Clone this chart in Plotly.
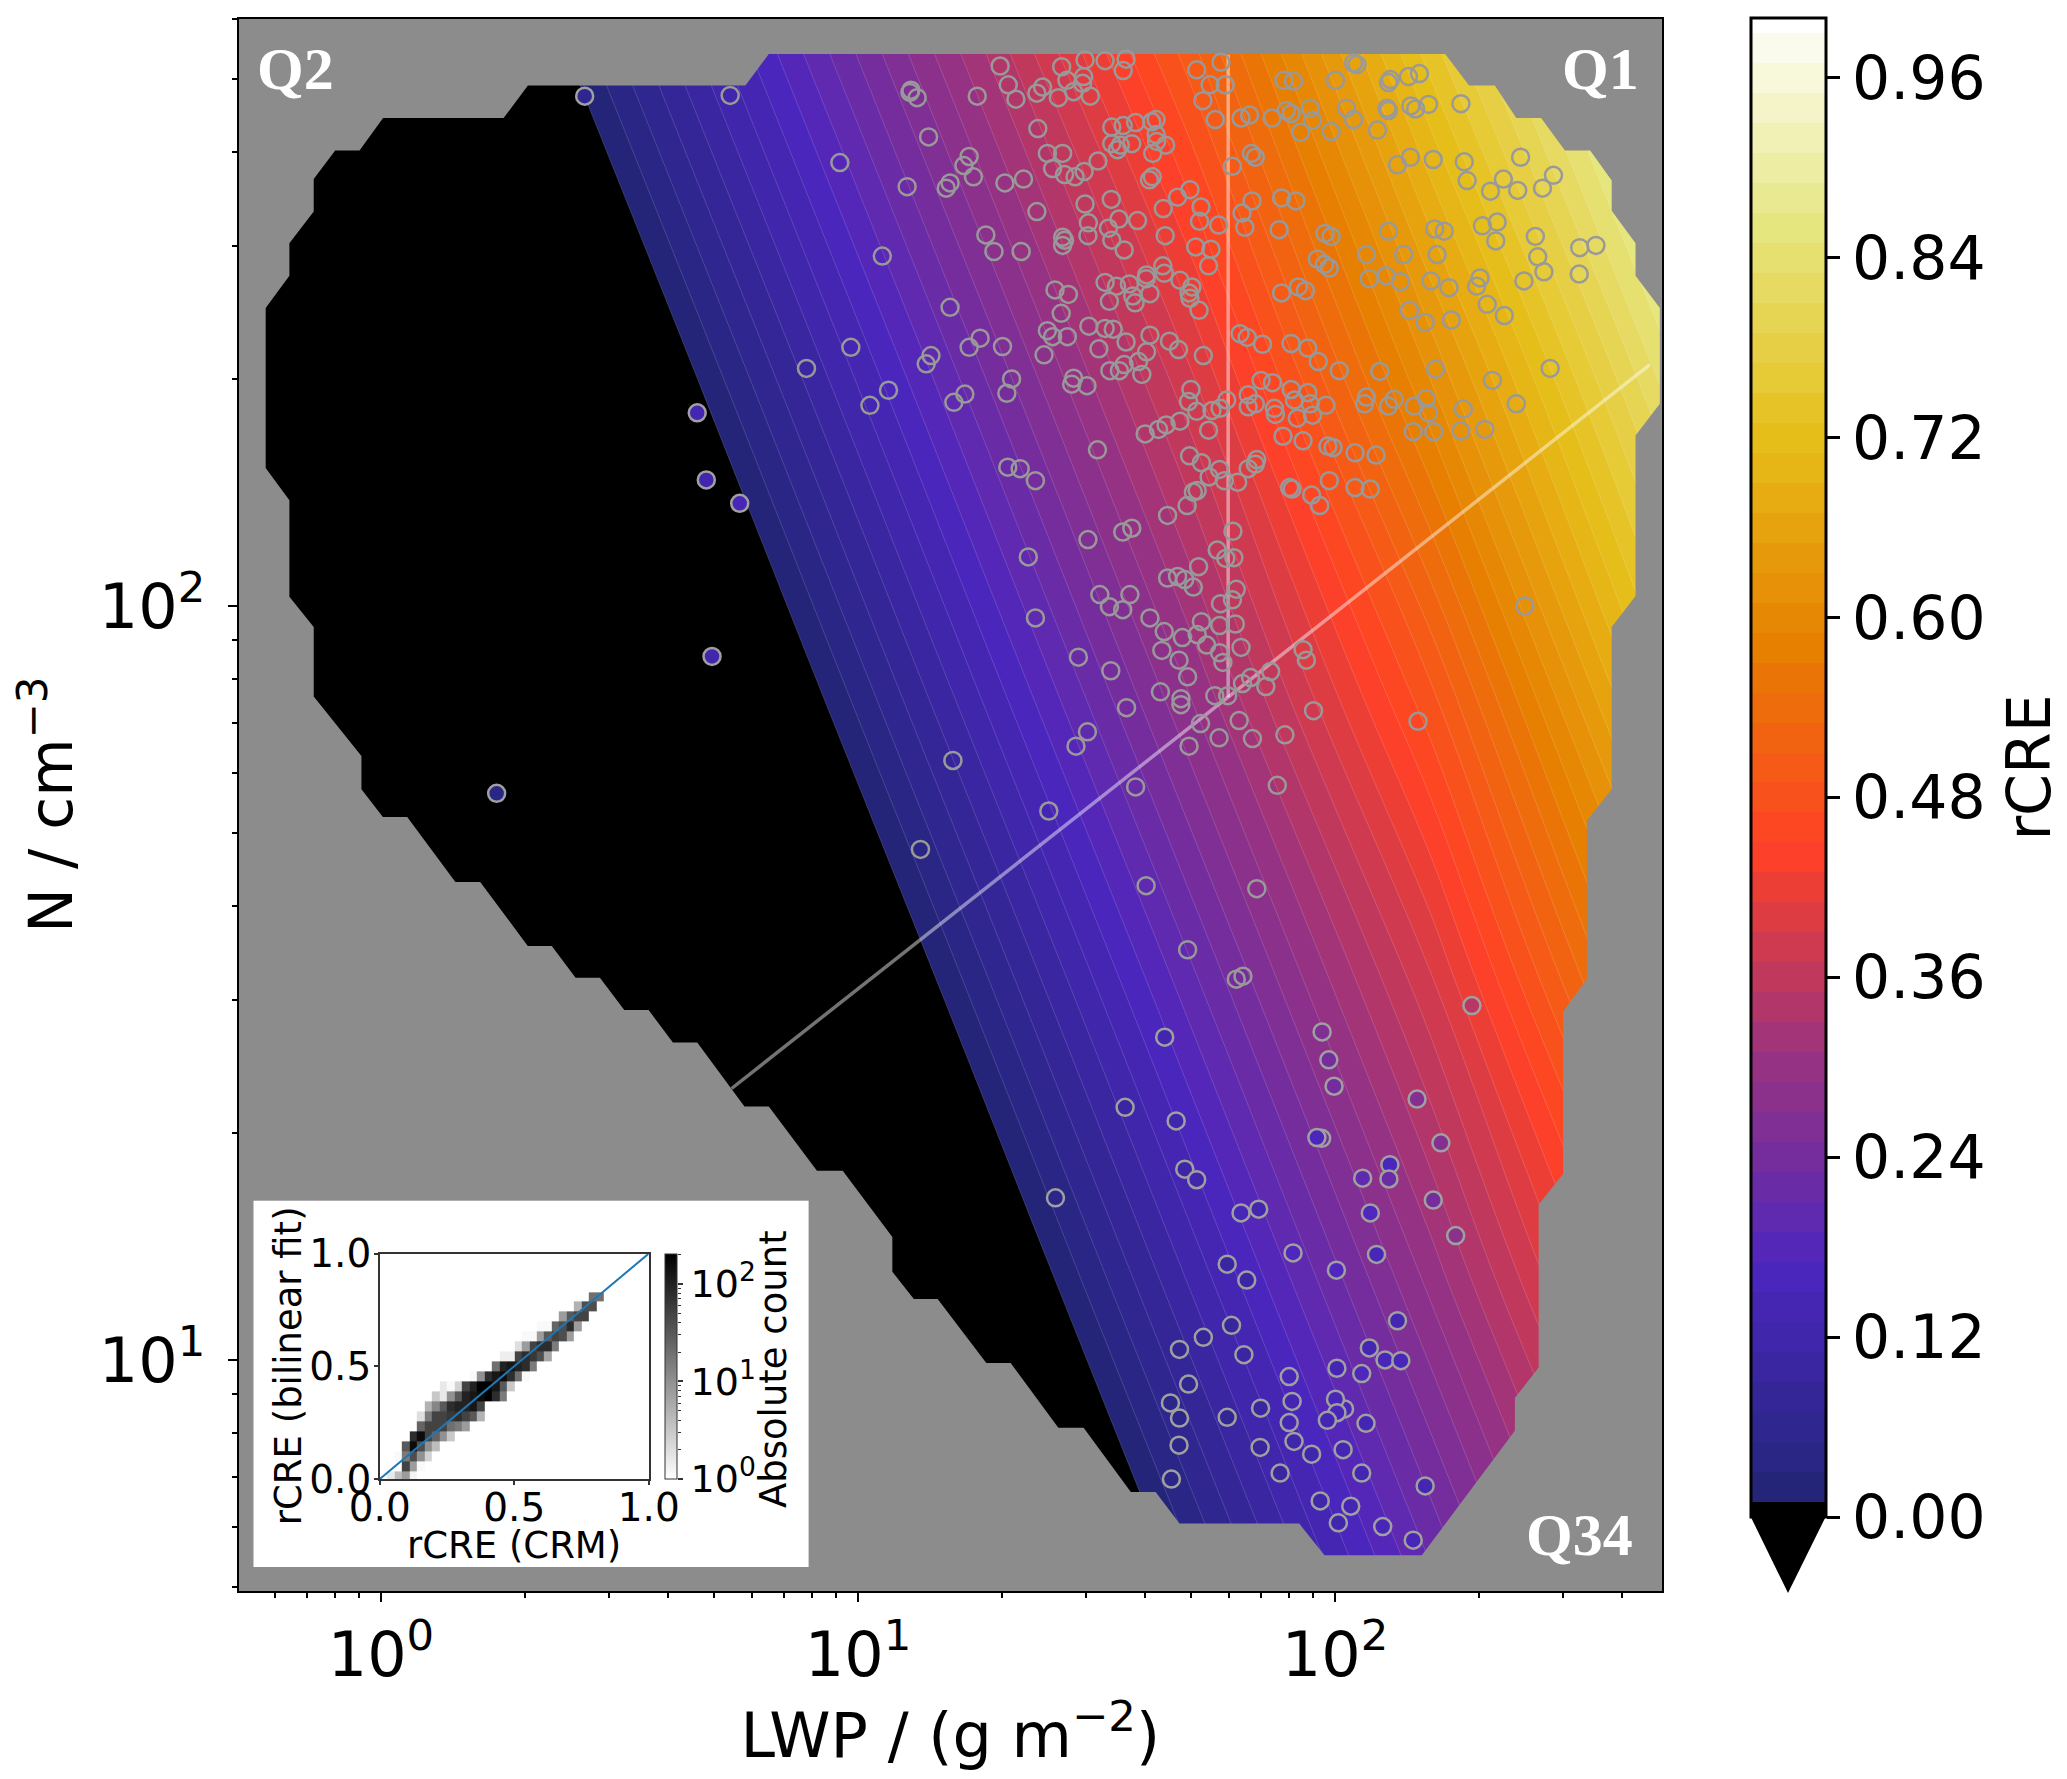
import numpy as np
import plotly.graph_objects as go

PAGE_W, PAGE_H = 2067, 1779
BODY = 8  # the page keeps a body margin of this many pixels
W, H = PAGE_W - BODY, PAGE_H - BODY

# ---------- fitted rCRE surface, table ----------
surface_log_lwp = [-0.3, 0.2, 0.7, 1.2, 1.7, 2.2, 2.7]
surface_log_n = [0.6, 0.7, 1.1, 1.5, 1.9, 2.3, 2.8]
surface_rcre = [  # one row per surface_log_n value
    [-0.740, -0.558, -0.376, -0.194, -0.012, 0.170, 0.352],
    [-0.717, -0.535, -0.353, -0.171, 0.011, 0.193, 0.375],
    [-0.625, -0.443, -0.261, -0.079, 0.103, 0.285, 0.480],
    [-0.534, -0.352, -0.170, 0.012, 0.194, 0.376, 0.600],
    [-0.442, -0.260, -0.078, 0.104, 0.286, 0.480, 0.720],
    [-0.351, -0.169, 0.013, 0.195, 0.377, 0.600, 0.830],
    [-0.236, -0.054, 0.128, 0.310, 0.510, 0.750, 0.970],
]

# ---------- outline of the covered region ----------
hull_log_lwp = [-0.2417, -0.2417, -0.192, -0.192, -0.141, -0.141, -0.096, -0.045, 0.0044, 0.257, 0.308, 0.764, 0.813,
                2.231, 2.281, 2.335, 2.380, 2.432, 2.482, 2.535, 2.580, 2.580, 2.630, 2.630, 2.681, 2.681, 2.630, 2.630,
                2.580, 2.580, 2.528, 2.528, 2.478, 2.478, 2.427, 2.427, 2.377, 2.377, 2.182, 1.978, 1.925, 1.674, 1.624,
                1.572, 1.473, 1.420, 1.320, 1.269, 1.167, 1.117, 1.072, 1.072, 0.968, 0.914, 0.813, 0.762, 0.663, 0.612,
                0.561, 0.510, 0.459, 0.408, 0.358, 0.3077, 0.208, 0.156, 0.055, 0.004, -0.041, -0.041, -0.141, -0.141,
                -0.192, -0.192]
hull_log_n = [2.183, 2.395, 2.438, 2.481, 2.523, 2.566, 2.604, 2.604, 2.647, 2.647, 2.690, 2.690, 2.732,
              2.732, 2.690, 2.690, 2.647, 2.647, 2.604, 2.604, 2.564, 2.524, 2.481, 2.438, 2.395, 2.268, 2.226, 2.013,
              1.972, 1.757, 1.715, 1.505, 1.462, 1.2465, 1.206, 0.990, 0.9496, 0.906, 0.741, 0.741, 0.783, 0.783, 0.825,
              0.825, 0.910, 0.910, 0.996, 0.996, 1.081, 1.081, 1.117, 1.163, 1.251, 1.251, 1.336, 1.336, 1.421, 1.421,
              1.464, 1.464, 1.507, 1.507, 1.549, 1.549, 1.634, 1.634, 1.720, 1.720, 1.757, 1.801, 1.880, 1.972,
              2.012, 2.140]
frame_log_lwp = [-1.0, -1.0, 3.5, 3.5, -1.0]
frame_log_n = [3.3, 0.2, 0.2, 3.3, 3.3]

# ---------- quadrant divider lines ----------
divider_up_log_lwp = [1.776, 1.776]
divider_up_log_n = [1.879, 2.731]
divider_diag_log_lwp = [0.735, 2.660]
divider_diag_log_n = [1.360, 2.320]

# ---------- cases whose fill melts into the background ----------
hollow_log_lwp = [
    1.298, 1.315, 1.331, 1.375, 1.387, 1.420, 1.427, 1.438, 1.452, 1.471, 1.473, 1.476, 1.487, 1.518, 1.562, 1.556,
    1.250, 1.109, 1.111, 1.124, 1.148, 1.377, 1.397, 1.429, 1.408, 1.433, 1.455, 1.474, 1.503, 1.532, 1.556, 1.582,
    1.532, 1.544, 1.550, 1.574, 1.618, 1.625, 1.616, 1.625, 1.626, 1.645, 1.749, 1.723, 1.710, 1.738, 1.761, 1.770,
    1.617, 1.611, 0.962, 1.103, 1.233, 1.222, 1.242, 1.193, 1.185, 1.308, 1.347, 1.375, 1.476, 1.531, 1.640, 1.670,
    1.696, 1.719, 1.716, 1.756, 1.586, 1.547, 1.483, 1.525, 1.482, 1.532, 1.558, 1.644, 1.708, 1.740, 1.735, 1.268,
    1.285, 1.342, 1.051, 1.429, 1.433, 1.429, 1.413, 1.441, 1.426, 1.518, 1.542, 1.569, 1.605, 1.604, 1.639, 1.642,
    1.675, 1.700, 1.694, 1.696, 1.715, 1.612, 1.576, 1.581, 1.527, 1.193, 1.397, 1.408, 1.439, 1.484, 1.518, 1.535,
    1.562, 1.505, 1.612, 1.653, 1.672, 1.724, 0.985, 1.256, 1.233, 1.303, 1.153, 1.143, 1.390, 1.605, 1.588, 1.558,
    1.548, 1.528, 1.595, 1.064, 1.025, 1.224, 1.201, 1.322, 1.312, 1.452, 1.448, 1.480, 1.698, 1.693, 1.742, 1.710,
    1.759, 1.773, 1.675, 1.646, 1.630, 1.602, 1.735,
    1.803, 1.821, 1.785, 1.825, 1.833, 1.888, 1.918, 1.826, 1.805, 1.811, 1.893, 1.913, 2.001, 2.039, 2.046, 2.112,
    2.116, 2.154, 2.177, 1.868, 1.898, 1.908, 1.948, 1.953, 1.928, 1.992, 2.024, 2.039, 2.089, 2.109, 2.112, 2.159,
    2.169, 2.196, 2.264, 2.158, 2.131, 2.206, 2.271, 2.277, 2.326, 2.353, 2.383, 2.389, 2.435, 2.458, 1.883, 1.979,
    1.992, 2.112, 2.209, 2.229, 2.309, 2.340, 2.337, 2.420, 2.513, 2.547, 2.512, 2.066, 2.144, 2.214, 2.425, 2.438,
    2.396, 1.963, 1.978, 1.988, 2.072, 2.107, 2.137, 2.201, 2.239, 2.304, 2.297, 1.888, 1.923, 1.938, 2.156, 2.189,
    2.244, 2.319, 2.355, 1.801, 1.816, 1.848, 1.908, 1.943, 1.965, 2.009, 2.094, 2.211, 2.451, 2.330, 1.845, 1.869,
    1.818, 1.818, 1.833, 1.908, 1.943, 1.915, 1.948, 1.981, 1.873, 1.875, 1.921, 1.953, 2.066, 2.062, 2.124, 2.112,
    2.166, 2.191, 2.196, 2.269, 2.380, 2.164, 2.207, 2.264, 2.314, 1.891, 1.933, 1.985, 1.996, 2.042, 2.086, 1.836,
    1.833, 1.818, 1.988, 1.905, 1.910, 2.042, 2.074, 1.951, 1.968, 2.398,
    1.502, 1.314, 1.340, 1.372, 1.695, 1.720, 1.758, 1.736, 1.768, 1.796, 1.703, 1.711, 1.690, 1.649, 1.574, 1.555,
    1.482, 1.357, 1.786, 1.753, 1.771, 1.788, 1.714, 1.649, 1.670, 1.685, 1.703, 1.507, 1.570, 1.527, 1.555, 1.372,
    1.612, 1.793, 1.785, 1.760, 1.720, 1.791, 1.758, 1.711, 1.642, 1.680, 1.731, 1.803, 1.758, 1.765, 1.637, 1.673,
    1.691, 1.462, 1.530, 1.933, 1.940, 1.865, 1.823, 1.806, 1.855, 1.775, 1.748, 1.634, 1.677,
    0.892, 0.732, 1.199, 1.131, 1.677, 1.563, 1.955, 2.174, 1.718, 1.799, 1.757, 1.827, 1.895, 1.694, 1.481, 1.457,
    1.582, 1.879, 1.400, 1.604, 1.836, 1.691, 1.793, 1.807,
]
hollow_log_n = [
    2.716, 2.691, 2.672, 2.680, 2.688, 2.674, 2.715, 2.697, 2.682, 2.693, 2.702, 2.724, 2.676, 2.723, 2.725, 2.710,
    2.676, 2.681, 2.684, 2.674, 2.622, 2.633, 2.600, 2.600, 2.580, 2.572, 2.569, 2.576, 2.590, 2.635, 2.637, 2.641,
    2.613, 2.605, 2.611, 2.613, 2.600, 2.645, 2.642, 2.625, 2.616, 2.611, 2.645, 2.670, 2.711, 2.691, 2.721, 2.691,
    2.569, 2.565, 2.588, 2.556, 2.596, 2.584, 2.569, 2.561, 2.554, 2.561, 2.566, 2.523, 2.533, 2.539, 2.527, 2.542,
    2.552, 2.529, 2.510, 2.505, 2.511, 2.513, 2.508, 2.501, 2.491, 2.485, 2.472, 2.491, 2.476, 2.473, 2.451, 2.492,
    2.470, 2.470, 2.464, 2.489, 2.485, 2.478, 2.419, 2.413, 2.388, 2.429, 2.424, 2.427, 2.439, 2.434, 2.451, 2.441,
    2.432, 2.423, 2.415, 2.408, 2.392, 2.414, 2.411, 2.402, 2.404, 2.396, 2.365, 2.357, 2.357, 2.371, 2.368, 2.367,
    2.350, 2.341, 2.359, 2.351, 2.340, 2.332, 2.343, 2.355, 2.343, 2.344, 2.332, 2.321, 2.333, 2.337, 2.324, 2.320,
    2.312, 2.312, 2.307, 2.286, 2.266, 2.281, 2.270, 2.301, 2.282, 2.302, 2.294, 2.292, 2.287, 2.271, 2.259, 2.258,
    2.262, 2.273, 2.245, 2.240, 2.234, 2.228, 2.233,
    2.647, 2.651, 2.583, 2.600, 2.595, 2.541, 2.537, 2.537, 2.521, 2.502, 2.697, 2.696, 2.697, 2.720, 2.718, 2.694,
    2.698, 2.702, 2.706, 2.647, 2.657, 2.653, 2.660, 2.644, 2.628, 2.629, 2.660, 2.645, 2.631, 2.660, 2.657, 2.663,
    2.659, 2.665, 2.666, 2.595, 2.585, 2.592, 2.589, 2.564, 2.550, 2.566, 2.551, 2.595, 2.554, 2.571, 2.499, 2.494,
    2.490, 2.497, 2.500, 2.497, 2.504, 2.509, 2.484, 2.490, 2.475, 2.478, 2.440, 2.466, 2.466, 2.466, 2.463, 2.443,
    2.431, 2.460, 2.453, 2.448, 2.434, 2.438, 2.430, 2.431, 2.422, 2.435, 2.424, 2.415, 2.423, 2.418, 2.392, 2.376,
    2.379, 2.400, 2.385, 2.361, 2.356, 2.347, 2.348, 2.342, 2.324, 2.312, 2.311, 2.314, 2.315, 2.299, 2.299, 2.296,
    2.280, 2.264, 2.268, 2.287, 2.283, 2.273, 2.268, 2.266, 2.262, 2.254, 2.249, 2.253, 2.277, 2.268, 2.274, 2.265,
    2.265, 2.275, 2.256, 2.261, 2.268, 2.231, 2.231, 2.232, 2.234, 2.225, 2.219, 2.212, 2.210, 2.203, 2.200, 2.194,
    2.188, 2.182, 2.166, 2.157, 2.155, 2.157, 2.155, 2.147, 2.133, 2.000,
    2.207, 2.184, 2.182, 2.166, 2.199, 2.190, 2.181, 2.171, 2.166, 2.164, 2.151, 2.153, 2.133, 2.120, 2.103, 2.098,
    2.088, 2.065, 2.099, 2.074, 2.063, 2.064, 2.052, 2.037, 2.039, 2.035, 2.025, 2.015, 2.015, 1.999, 1.995, 1.984,
    1.984, 2.022, 2.008, 2.003, 1.979, 1.976, 1.974, 1.962, 1.966, 1.958, 1.948, 1.945, 1.938, 1.925, 1.941, 1.928,
    1.906, 1.932, 1.914, 1.942, 1.928, 1.913, 1.905, 1.897, 1.893, 1.881, 1.881, 1.886, 1.877,
    2.315, 2.677, 1.795, 1.677, 1.869, 1.865, 1.861, 1.847, 1.844, 1.848, 1.825, 1.824, 1.829, 1.814, 1.833, 1.814,
    1.760, 1.762, 1.728, 1.629, 1.625, 1.544, 1.505, 1.509,
]

# ---------- cases whose own rCRE colour stands out ----------
filled_log_lwp = [
    0.427, 0.663, 0.682, 0.752, 0.694, 0.2425,
    2.287, 1.643, 1.973, 1.987, 1.998, 2.172, 1.560, 1.667, 2.222, 1.972, 1.962, 2.115, 2.113, 2.058, 1.685, 1.710,
    2.206, 1.414, 1.803, 1.840, 2.074, 2.253, 2.087, 1.912, 1.774, 1.815, 2.003, 2.131, 1.783, 1.724, 1.674, 2.072,
    2.105, 2.138, 1.809, 2.004, 2.056, 1.904, 1.693, 1.910, 1.655, 2.020, 2.001, 2.004, 1.984, 1.844, 1.674, 1.774,
    1.904, 2.065, 1.914, 1.673, 1.843, 1.951, 2.017, 1.885, 2.056, 1.657, 2.189, 1.969, 2.033, 2.007, 2.100, 2.164,
]
filled_log_n = [
    2.676, 2.256, 2.167, 2.136, 1.933, 1.7515,
    1.470, 1.428, 1.435, 1.398, 1.363, 1.346, 1.335, 1.317, 1.288, 1.294, 1.295, 1.259, 1.240, 1.241, 1.253, 1.239,
    1.212, 1.215, 1.195, 1.200, 1.195, 1.165, 1.140, 1.142, 1.127, 1.106, 1.119, 1.052, 1.046, 1.030, 1.014, 1.016,
    1.000, 0.999, 1.007, 0.989, 0.982, 0.978, 0.968, 0.945, 0.943, 0.935, 0.948, 0.930, 0.920, 0.936, 0.923, 0.924,
    0.917, 0.916, 0.892, 0.887, 0.884, 0.875, 0.881, 0.850, 0.850, 0.842, 0.833, 0.813, 0.806, 0.784, 0.779, 0.761,
]
filled_rcre = [
    0.06, 0.14, 0.13, 0.15, 0.13, 0.04,
    0.35, 0.13, 0.26, 0.24, 0.24, 0.27, 0.10, 0.12, 0.27, 0.24, 0.16, 0.16, 0.22, 0.20, 0.11, 0.12,
    0.24, 0.05, 0.15, 0.13, 0.17, 0.28, 0.15, 0.17, 0.10, 0.11, 0.17, 0.14, 0.09, 0.08, 0.07, 0.14,
    0.15, 0.15, 0.10, 0.14, 0.17, 0.15, 0.06, 0.14, 0.05, 0.16, 0.15, 0.15, 0.14, 0.10, 0.05, 0.07,
    0.14, 0.14, 0.12, 0.05, 0.09, 0.12, 0.14, 0.10, 0.14, 0.05, 0.14, 0.12, 0.14, 0.12, 0.15, 0.15,
]

# ---------- colour table ----------
cmap_rcre = [0.0, 0.0278, 0.167, 0.306, 0.444, 0.583, 0.722, 0.861, 1.0]
cmap_colors = ["#1f1f66", "#262680", "#4d26bf", "#993380", "#ff4026", "#e68000", "#e6bf1a", "#e6e680", "#ffffff"]
rcre_ticks = [0.00, 0.12, 0.24, 0.36, 0.48, 0.60, 0.72, 0.84, 0.96]

# ---------- inset histogram ----------
hist_y_edges = [0, .034, .079, .123, .168, .212, .257, .302, .346, .389, .434, .478, .523, .568, .611, .656, .700,
                .745, .790, .828]
hist_first_col = [1, 3, 2, 3, 4, 5, 5, 6, 7, 8, 12, 15, 16, 18, 19, 21, 24, 26, 28]
hist_log_counts = [
    [.2, .6, .9, .1],
    [1.7, .9, .05],
    [.05, 1.2, 1.6, 1.0, .4],
    [1.5, 2.2, 1.6, 1.0, .6],
    [1.9, 2.2, 1.7, 1.4, 1.0, .5],
    [1.4, 1.7, 1.7, 1.7, 1.3, 1.2, .9],
    [.3, 1.2, 1.7, 1.7, 1.8, 1.9, 1.7, 1.5, .7],
    [.7, 1.1, 1.5, 1.9, 2.0, 2.0, 2.1, 1.7],
    [.5, .2, 1.0, 1.5, 2.0, 2.1, 2.2, 2.3, 1.9, 1.2],
    [.2, .05, .4, 1.7, 2.0, 2.3, 2.3, 2.1, 1.5, .5],
    [.05, 1.0, 1.9, 2.1, 2.2, 1.9, 1.3, .05],
    [1.3, 2.0, 2.1, 2.0, 1.9, 1.2],
    [.15, .15, 1.7, 1.9, 1.8, 1.6, .8],
    [.3, .9, 1.7, 1.9, 1.9, 1.2],
    [.05, .05, .9, 1.5, 1.7, 1.6, .9],
    [.05, .05, 1.4, 1.6, 1.9, .9],
    [.9, 1.5, 1.7, 1.7],
    [.7, 1.6, 1.6],
    [1.3, 1.3],
]
count_major = [1, 10, 100]
count_minor = [2, 3, 4, 5, 6, 7, 8, 9, 20, 30, 40, 50, 60, 70, 80, 90, 200]

x_major = [1, 10, 100]
x_minor = [.6, .7, .8, .9, 2, 3, 4, 5, 6, 7, 8, 9, 20, 30, 40, 50, 60, 70, 80, 90, 200, 300, 400]
y_major = [10, 100]
y_minor = [5, 6, 7, 8, 9, 20, 30, 40, 50, 60, 70, 80, 90, 200, 300, 400, 500, 600]


def fx(px):
    return (px - BODY) / W


def fy(py):
    return 1 - (py - BODY) / H


pow10 = lambda a: np.power(10.0, np.asarray(a, dtype=float))

# plotly spreads a contour colorscale, and its colour bar, over start - size/2 .. end + size/2,
# and paints what lies below the first level with the colour at the very bottom of the scale.
# Levels sit half a step up and the surface is lifted by the same half step, so that the bar
# runs over 0..1 and the first drawn level stays the rCRE = 0 line.
half_step = 0.01
levels = dict(start=half_step, end=1 - half_step, size=2 * half_step)
surface_shown = np.array(surface_rcre) + half_step
colorscale = [[0, "#000000"], [0.0005, "#000000"], [0.001, cmap_colors[0]]] + [
    [v, c] for v, c in zip(cmap_rcre[1:], cmap_colors[1:])]
marker_scale = [[v, c] for v, c in zip(cmap_rcre, cmap_colors)]
GREY = "#8c8c8c"
FONT = "DejaVu Sans"
INSET = 37
INSET_TICK = 39

fig = go.Figure()

fig.add_trace(go.Contour(
    x=pow10(surface_log_lwp), y=pow10(surface_log_n), z=surface_shown,
    colorscale=colorscale, autocontour=False,
    contours=dict(coloring="fill", showlines=False, **levels), line=dict(width=0),
    hoverinfo="skip",
    colorbar=dict(
        x=fx(1750.7), xanchor="left", xpad=0, y=fy(18), yanchor="top", ypad=0,
        thicknessmode="pixels", thickness=75, lenmode="pixels", len=1498.7,
        outlinecolor="black", outlinewidth=3,
        tickmode="array", tickvals=rcre_ticks, ticktext=[f"{t:.2f}\u200a" for t in rcre_ticks],
        ticks="outside", ticklen=13, tickwidth=3, tickcolor="black",
        tickfont=dict(family=FONT, size=60, color="black"),
        title=dict(text="rCRE", side="right", font=dict(family=FONT, size=60, color="black")),
    ),
))
fig.add_trace(go.Contour(
    x=pow10(surface_log_lwp), y=pow10(surface_log_n), z=surface_shown, showscale=False, autocontour=False,
    contours=dict(coloring="none", **levels), line=dict(color="rgba(255,255,255,0.22)", width=0.7),
    hoverinfo="skip",
))

mask_x = list(pow10(frame_log_lwp)) + [None] + list(pow10(hull_log_lwp))
mask_y = list(pow10(frame_log_n)) + [None] + list(pow10(hull_log_n))
fig.add_trace(go.Scatter(x=mask_x, y=mask_y, mode="lines", fill="toself", fillcolor=GREY,
                         line=dict(width=0, color=GREY), hoverinfo="skip", showlegend=False))

for lx, ly in ((divider_up_log_lwp, divider_up_log_n), (divider_diag_log_lwp, divider_diag_log_n)):
    fig.add_trace(go.Scatter(x=pow10(lx), y=pow10(ly), mode="lines",
                             line=dict(color="rgba(255,255,255,0.45)", width=3.5), showlegend=False, hoverinfo="skip"))

fig.add_trace(go.Scatter(x=pow10(hollow_log_lwp), y=pow10(hollow_log_n), mode="markers",
                         marker=dict(size=17, color="rgba(0,0,0,0)", line=dict(color="#999999", width=2.5)),
                         showlegend=False, hoverinfo="skip"))
fig.add_trace(go.Scatter(x=pow10(filled_log_lwp), y=pow10(filled_log_n), mode="markers",
                         marker=dict(size=17, color=filled_rcre, colorscale=marker_scale, cmin=0, cmax=1,
                                     showscale=False, line=dict(color="#a0a0a0", width=2.5)),
                         showlegend=False, hoverinfo="skip"))

# white box behind the inset: an overlapping subplot paints its own plot background
fig.add_trace(go.Scatter(x=[0.5], y=[0.5], xaxis="x2", yaxis="y2", mode="markers",
                         marker=dict(size=1, color="white"), showlegend=False, hoverinfo="skip"))

# inset histogram
n_cols = 30
hist_x_edges = [c * 0.0278 for c in range(n_cols + 1)]
hist_matrix = [[None] * n_cols for _ in hist_first_col]
for r, (first, row) in enumerate(zip(hist_first_col, hist_log_counts)):
    for k, v in enumerate(row):
        hist_matrix[r][first + k] = v
fig.add_trace(go.Heatmap(
    x=hist_x_edges, y=hist_y_edges, z=hist_matrix, xaxis="x3", yaxis="y3",
    colorscale=[[0, "#ffffff"], [1, "#000000"]], zmin=0, zmax=2.31, hoverinfo="skip",
    colorbar=dict(
        x=fx(665), xanchor="left", xpad=0, y=fy(1253.6), yanchor="top", ypad=0,
        thicknessmode="pixels", thickness=12, lenmode="pixels", len=225.4,
        outlinecolor="#333333", outlinewidth=1, ticks="", showticklabels=False,
    ),
))
fig.add_trace(go.Scatter(x=[0, 1], y=[0, 1], xaxis="x3", yaxis="y3", mode="lines",
                         line=dict(color="#1f77b4", width=2), showlegend=False, hoverinfo="skip"))
# tick scale of the inset colour bar
fig.add_trace(go.Scatter(x=[0.5], y=[10], xaxis="x4", yaxis="y4", mode="markers",
                         marker=dict(size=1, color="rgba(0,0,0,0)"), showlegend=False, hoverinfo="skip"))

axis_common = dict(type="log", showgrid=False, zeroline=False, showline=True, mirror=True, linecolor="black",
                   linewidth=1.5, tickmode="array", ticks="outside", ticklen=9, tickwidth=2, tickcolor="black",
                   tickfont=dict(family=FONT, size=62, color="black"))
inset_common = dict(showgrid=False, zeroline=False, showline=True, mirror=True, linecolor="#333333", linewidth=1.5,
                    range=[0, 1], tickmode="array", tickvals=[0, .5, 1], ticktext=["0.0", "0.5", "1.0"],
                    ticks="outside", ticklen=4, tickwidth=1.5, tickcolor="#333333",
                    tickfont=dict(family=FONT, size=INSET_TICK, color="black"))

fig.update_layout(
    width=W, height=H, margin=dict(l=0, r=0, t=0, b=0, autoexpand=False), paper_bgcolor="white", plot_bgcolor="white",
    showlegend=False, font=dict(family=FONT),
    xaxis=dict(domain=[fx(238.5), fx(1662)], range=[-0.2987, 2.6855], anchor="y",
               tickvals=x_major, ticktext=[f"10<sup>{i}</sup>" for i in range(3)],
               minor=dict(tickmode="array", tickvals=x_minor, ticks="outside", ticklen=5, tickwidth=1.5,
                          tickcolor="black", showgrid=False),
               title=dict(text="LWP / (g m<sup>−2</sup>)", font=dict(family=FONT, size=62, color="black"), standoff=9),
               **axis_common),
    yaxis=dict(domain=[fy(1591), fy(18.5)], range=[0.6936, 2.779], anchor="x",
               tickvals=y_major, ticktext=["10<sup>1</sup>", "10<sup>2</sup>"], ticklabelstandoff=10,
               minor=dict(tickmode="array", tickvals=y_minor, ticks="outside", ticklen=5, tickwidth=1.5,
                          tickcolor="black", showgrid=False),
               title=dict(text="N / cm<sup>−3</sup>", font=dict(family=FONT, size=60, color="black"), standoff=10),
               **axis_common),
    xaxis2=dict(domain=[fx(253.5), fx(808.6)], range=[0, 1], anchor="y2", visible=False),
    yaxis2=dict(domain=[fy(1567), fy(1200.7)], range=[0, 1], anchor="x2", visible=False),
    xaxis3=dict(domain=[fx(379.8), fx(648.7)], anchor="y3", ticklabelstandoff=-11, **inset_common),
    yaxis3=dict(domain=[fy(1479), fy(1253.6)], anchor="x3", ticklabelstandoff=-5, **inset_common),
    xaxis4=dict(domain=[fx(665), fx(677)], range=[0, 1], anchor="y4", visible=False),
    yaxis4=dict(domain=[fy(1479), fy(1253.6)], type="log", range=[0, 2.31], anchor="x4", side="right",
                showgrid=False, zeroline=False, showline=False, tickmode="array", tickvals=count_major,
                ticktext=[f"10<sup>{i}</sup>" for i in range(3)], ticks="outside", ticklen=5, tickwidth=1.5,
                tickcolor="#333333", tickfont=dict(family=FONT, size=INSET + 1, color="black"),
                minor=dict(tickmode="array", tickvals=count_minor, ticks="outside", ticklen=3, tickwidth=1,
                           tickcolor="#333333", showgrid=False)),
    annotations=[
        dict(text=t, x=fx(px), y=fy(py), xref="paper", yref="paper", showarrow=False, xanchor="center", yanchor="middle",
             font=dict(family="Liberation Serif", size=60, color="white"))
        for t, px, py in (("<b>Q2</b>", 295, 69), ("<b>Q1</b>", 1600, 69), ("<b>Q34</b>", 1579, 1535))
    ] + [
        dict(text=t, x=fx(px), y=fy(py), xref="paper", yref="paper", showarrow=False, xanchor="center", yanchor="middle",
             textangle=ang, font=dict(family=FONT, size=INSET, color="black"))
        for t, px, py, ang in (("rCRE (CRM)", 514, 1545, 0), ("rCRE (bilinear fit)", 288.6, 1365.6, -90),
                               ("Absolute count", 773.7, 1369.4, -90))
    ],
    shapes=[dict(type="path", xref="paper", yref="paper", layer="above", fillcolor="black", line=dict(width=0),
                 path=f"M {fx(1750.7)} {fy(1516.7)} L {fx(1825.7)} {fy(1516.7)} L {fx(1788)} {fy(1593)} Z")],
)

fig.write_html("out.html")
